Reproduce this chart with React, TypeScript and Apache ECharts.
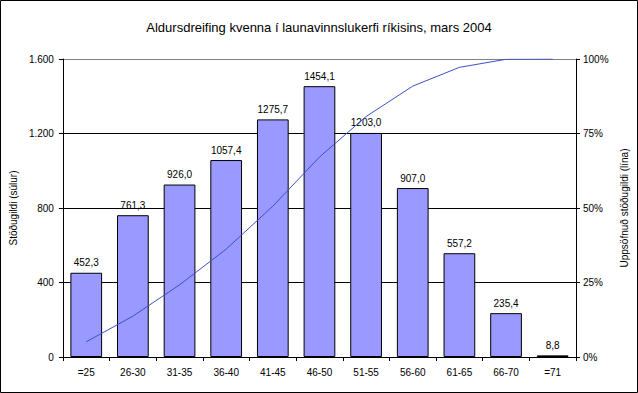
import React, { useEffect, useRef } from "react";
import * as echarts from "echarts";

const categories = ["=25", "26-30", "31-35", "36-40", "41-45", "46-50", "51-55", "56-60", "61-65", "66-70", "=71"];
const fte = [452.3, 761.3, 926.0, 1057.4, 1275.7, 1454.1, 1203.0, 907.0, 557.2, 235.4, 8.8];
const cumulativePct = [5.1, 13.7, 24.2, 36.2, 50.6, 67.1, 80.7, 90.9, 97.2, 99.9, 100];
const leftTicks = [0, 400, 800, 1200, 1600];
const rightTicks = [0, 25, 50, 75, 100];

const FONT = "'Liberation Sans', Arial, sans-serif";

export default function App() {
  const ref = useRef<HTMLDivElement>(null);
  useEffect(() => {
    const chart = echarts.init(ref.current!, null, { renderer: "svg" });
    chart.setOption({
      animation: false,
      backgroundColor: "#ffffff",
      textStyle: { fontFamily: FONT },
      title: {
        text: "Aldursdreifing kvenna í launavinnslukerfi ríkisins, mars 2004",
        left: "center",
        top: 16,
        textStyle: { fontFamily: FONT, fontSize: 13, fontWeight: "normal", color: "#000" },
      },
      graphic: [
        {
          type: "rect",
          shape: { x: 0.5, y: 0.5, width: 637, height: 392 },
          style: { fill: "none", stroke: "#000", lineWidth: 1 },
          z: 100,
        },
      ],
      grid: { left: 62, right: 62, top: 59, bottom: 36 },
      xAxis: {
        type: "category",
        data: categories,
        axisLine: { lineStyle: { color: "#000", width: 1 } },
        axisTick: { show: true, length: 4, lineStyle: { color: "#000" } },
        axisLabel: { color: "#000", fontSize: 10, margin: 10, fontFamily: FONT },
      },
      yAxis: [
        {
          type: "value",
          min: leftTicks[0],
          max: leftTicks[leftTicks.length - 1],
          interval: 400,
          name: "Stöðugildi (súlur)",
          nameLocation: "middle",
          nameGap: 44,
          nameRotate: 90,
          nameTextStyle: { fontSize: 10, color: "#000", fontFamily: FONT },
          axisLine: { show: true, lineStyle: { color: "#000" } },
          axisTick: { show: true, length: 4, lineStyle: { color: "#000" } },
          axisLabel: {
            color: "#000",
            fontSize: 10,
            margin: 9,
            fontFamily: FONT,
            formatter: (v: number) => v.toLocaleString("de-DE"),
          },
          splitLine: {
            show: true,
            lineStyle: { color: ["#000", "#000", "#000", "#000", "#808080"], width: 1 },
          },
        },
        {
          type: "value",
          min: rightTicks[0],
          max: rightTicks[rightTicks.length - 1],
          interval: 25,
          position: "right",
          name: "Uppsöfnuð stöðugildi (lína)",
          nameLocation: "middle",
          nameGap: 42,
          nameRotate: 90,
          nameTextStyle: { fontSize: 10, color: "#000", fontFamily: FONT },
          axisLine: { show: true, lineStyle: { color: "#000" } },
          axisTick: { show: true, length: 4, lineStyle: { color: "#000" } },
          axisLabel: { color: "#000", fontSize: 10, margin: 7, fontFamily: FONT, formatter: "{value}%" },
          splitLine: { show: false },
        },
      ],
      series: [
        {
          type: "bar",
          data: fte,
          barCategoryGap: "32%",
          itemStyle: { color: "#9999ff", borderColor: "#000", borderWidth: 1 },
          label: {
            show: true,
            position: "top",
            distance: 5,
            color: "#000",
            fontSize: 10,
            fontFamily: FONT,
            formatter: (p: any) => p.value.toFixed(1).replace(".", ","),
          },
          z: 2,
        },
        {
          type: "line",
          yAxisIndex: 1,
          data: cumulativePct,
          showSymbol: false,
          symbol: "none",
          lineStyle: { color: "#3c50c8", width: 1 },
          z: 5,
        },
      ],
    });
    return () => chart.dispose();
  }, []);
  return (
    <div
      ref={ref}
      style={{ position: "fixed", left: 0, top: 0, width: 638, height: 393 }}
    />
  );
}
